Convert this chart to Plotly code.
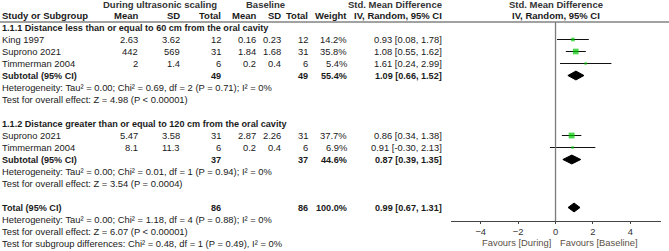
import plotly.graph_objects as go

W, H = 669, 251
ROW0, ROWH = 3.5, 12.0
FONT = "Liberation Sans, Arial, sans-serif"
FS = 9.4        # regular body text
FS_B = 9.1      # bold body text
FS_H = 9.5      # header text
TXT = "#1a1a1a"

# ---------------- data ----------------
g1_title = "1.1.1 Distance less than or equal to 60 cm from the oral cavity"
g1_names = ["King 1997", "Suprono 2021", "Timmerman 2004"]
g1_mean_d = [2.63, 442, 2]
g1_sd_d = [3.62, 569, 1.4]
g1_n_d = [12, 31, 6]
g1_mean_b = [0.16, 1.84, 0.2]
g1_sd_b = [0.23, 1.68, 0.4]
g1_n_b = [12, 31, 6]
g1_weight = [14.2, 35.8, 5.4]
g1_smd = [0.93, 1.08, 1.61]
g1_lo = [0.08, 0.55, 0.24]
g1_hi = [1.78, 1.62, 2.99]
g1_sub = dict(n_d=49, n_b=49, weight=55.4, est=1.09, lo=0.66, hi=1.52)
g1_het = "Heterogeneity: Tau² = 0.00; Chi² = 0.69, df = 2 (P = 0.71); I² = 0%"
g1_test = "Test for overall effect: Z = 4.98 (P < 0.00001)"

g2_title = "1.1.2 Distance greater than or equal to 120 cm from the oral cavity"
g2_names = ["Suprono 2021", "Timmerman 2004"]
g2_mean_d = [5.47, 8.1]
g2_sd_d = [3.58, 11.3]
g2_n_d = [31, 6]
g2_mean_b = [2.87, 0.2]
g2_sd_b = [2.26, 0.4]
g2_n_b = [31, 6]
g2_weight = [37.7, 6.9]
g2_smd = [0.86, 0.91]
g2_lo = [0.34, -0.30]
g2_hi = [1.38, 2.13]
g2_sub = dict(n_d=37, n_b=37, weight=44.6, est=0.87, lo=0.39, hi=1.35)
g2_het = "Heterogeneity: Tau² = 0.00; Chi² = 0.01, df = 1 (P = 0.94); I² = 0%"
g2_test = "Test for overall effect: Z = 3.54 (P = 0.0004)"

total = dict(n_d=86, n_b=86, weight=100.0, est=0.99, lo=0.67, hi=1.31)
total_het = "Heterogeneity: Tau² = 0.00; Chi² = 1.18, df = 4 (P = 0.88); I² = 0%"
total_test = "Test for overall effect: Z = 6.07 (P < 0.00001)"
subgroup_test = "Test for subgroup differences: Chi² = 0.48, df = 1 (P = 0.49), I² = 0%"

tick_vals = [-4, -2, 0, 2, 4]
favours_left = "Favours [During]"
favours_right = "Favours [Baseline]"

# ---------------- layout helpers ----------------
X_RANGE = [-5.59, 5.64]
PLOT_L, PLOT_R, AXIS_Y = 451, 661, 221
COL = dict(md=138, sdd=180, nd=221, mb=256, sdb=281, nb=308, w=347, ci=442)


def prow(px):
    """pixel (from top) -> row coordinate"""
    return (px - ROW0) / ROWH


fig = go.Figure()


def txt(xpx, row, s, anchor="left", bold=False, color=TXT, size=None):
    if size is None:
        size = FS_B if bold else FS
    if bold:
        s = "<b>" + s + "</b>"
    fig.add_annotation(xref="paper", yref="y", x=xpx / W, y=row, text=s,
                       xanchor=anchor, yanchor="middle", showarrow=False,
                       borderpad=0, borderwidth=0,
                       font=dict(family=FONT, size=size, color=color))


def fmt(v):
    return f"{v:g}"


def ci_text(e, l, h):
    return f"{e:.2f} [{l:.2f}, {h:.2f}]"


# headers
H0, H1 = prow(4.5), prow(15.5)
txt(160, H0, "During ultrasonic scaling", "center", True, "#333", FS_H)
txt(265, H0, "Baseline", "center", True, "#333", FS_H)
txt(COL["ci"], H0, "Std. Mean Difference", "right", True, "#333", FS_H)
txt(556, H0, "Std. Mean Difference", "center", True, "#333", FS_H)
txt(2, H1, "Study or Subgroup", "left", True, TXT, FS_H)
for key, lab in [("md", "Mean"), ("sdd", "SD"), ("nd", "Total"), ("mb", "Mean"),
                 ("sdb", "SD"), ("nb", "Total"), ("w", "Weight")]:
    txt(COL[key], H1, lab, "right", True, TXT, FS_H)
txt(COL["ci"], H1, "IV, Random, 95% CI", "right", True, TXT, FS_H)
txt(556, H1, "IV, Random, 95% CI", "center", True, TXT, FS_H)

diamonds = []
study_rows, study_est, study_lo, study_hi, study_w = [], [], [], [], []


def group(start, title, names, md, sdd, nd, mb, sdb, nb, w, e, lo, hi, sub, het, test):
    r = start
    txt(2, r, title, "left", True)
    r += 1
    for i in range(len(names)):
        txt(2, r, names[i])
        txt(COL["md"], r, fmt(md[i]), "right")
        txt(COL["sdd"], r, fmt(sdd[i]), "right")
        txt(COL["nd"], r, str(nd[i]), "right")
        txt(COL["mb"], r, fmt(mb[i]), "right")
        txt(COL["sdb"], r, fmt(sdb[i]), "right")
        txt(COL["nb"], r, str(nb[i]), "right")
        txt(COL["w"], r, f"{w[i]:.1f}%", "right")
        txt(COL["ci"], r, ci_text(e[i], lo[i], hi[i]), "right")
        study_rows.append(r)
        study_est.append(e[i])
        study_lo.append(lo[i])
        study_hi.append(hi[i])
        study_w.append(w[i])
        r += 1
    txt(2, r, "Subtotal (95% CI)", "left", True)
    txt(COL["nd"], r, str(sub["n_d"]), "right", True)
    txt(COL["nb"], r, str(sub["n_b"]), "right", True)
    txt(COL["w"], r, f"{sub['weight']:.1f}%", "right", True)
    txt(COL["ci"], r, ci_text(sub["est"], sub["lo"], sub["hi"]), "right", True)
    diamonds.append((r, sub["est"], sub["lo"], sub["hi"]))
    r += 1
    txt(2, r, het)
    r += 1
    txt(2, r, test)
    r += 1
    return r


r = group(2, g1_title, g1_names, g1_mean_d, g1_sd_d, g1_n_d, g1_mean_b, g1_sd_b,
          g1_n_b, g1_weight, g1_smd, g1_lo, g1_hi, g1_sub, g1_het, g1_test)
r = group(r + 1, g2_title, g2_names, g2_mean_d, g2_sd_d, g2_n_d, g2_mean_b, g2_sd_b,
          g2_n_b, g2_weight, g2_smd, g2_lo, g2_hi, g2_sub, g2_het, g2_test)
r += 1
txt(2, r, "Total (95% CI)", "left", True)
txt(COL["nd"], r, str(total["n_d"]), "right", True)
txt(COL["nb"], r, str(total["n_b"]), "right", True)
txt(COL["w"], r, f"{total['weight']:.1f}%", "right", True)
txt(COL["ci"], r, ci_text(total["est"], total["lo"], total["hi"]), "right", True)
diamonds.append((r, total["est"], total["lo"], total["hi"]))
txt(2, r + 1, total_het)
txt(2, r + 2, total_test)
txt(2, r + 3, subgroup_test)

# study markers with CI whiskers
fig.add_trace(go.Scatter(
    x=study_est, y=study_rows, mode="markers",
    marker=dict(symbol="square", color="#00c800",
                size=[max(2.4, (w ** 0.5) * 0.95) for w in study_w], line=dict(width=0)),
    error_x=dict(type="data", symmetric=False,
                 array=[h - e for h, e in zip(study_hi, study_est)],
                 arrayminus=[e - l for e, l in zip(study_est, study_lo)],
                 color="#111", thickness=1, width=0),
    showlegend=False, hoverinfo="skip", cliponaxis=False))

# diamonds
for (row, e, l, h) in diamonds:
    hh = 0.37
    fig.add_trace(go.Scatter(
        x=[l, e, h, e, l], y=[row, row - hh, row, row + hh, row],
        mode="lines", fill="toself", fillcolor="black",
        line=dict(color="black", width=1), showlegend=False, hoverinfo="skip"))

# header rule and zero line
fig.add_shape(type="line", xref="paper", yref="y", x0=0, x1=1,
              y0=prow(22), y1=prow(22), line=dict(color="#444", width=1))
fig.add_shape(type="line", xref="x", yref="y", x0=0, x1=0,
              y0=prow(22), y1=prow(AXIS_Y), line=dict(color="#7a7a7a", width=1.3))

# favours labels
fig.add_annotation(xref="x", yref="y", x=-0.2, y=prow(242), text=favours_left,
                   xanchor="right", yanchor="middle", showarrow=False,
                   borderpad=0, font=dict(family=FONT, size=FS, color="#5a5046"))
fig.add_annotation(xref="x", yref="y", x=0.2, y=prow(242), text=favours_right,
                   xanchor="left", yanchor="middle", showarrow=False,
                   borderpad=0, font=dict(family=FONT, size=FS, color="#5a5046"))

fig.update_layout(
    width=W, height=H, margin=dict(l=0, r=0, t=0, b=0, autoexpand=False),
    paper_bgcolor="white", plot_bgcolor="white",
    xaxis=dict(domain=[PLOT_L / W, PLOT_R / W], range=X_RANGE, tickvals=tick_vals,
               anchor="free", position=1 - AXIS_Y / H, automargin=False,
               showgrid=False, zeroline=False, showline=True, linecolor="#444",
               linewidth=1, ticks="outside", ticklen=2, tickcolor="#444",
               tickfont=dict(family=FONT, size=FS, color="#333"), fixedrange=True),
    yaxis=dict(domain=[0, 1], range=[prow(H), prow(0)], visible=False,
               automargin=False, fixedrange=True),
)

fig.write_html("out.html", config=dict(displayModeBar=False),
               post_script="document.body.style.margin='0';document.body.style.overflow='hidden';")
